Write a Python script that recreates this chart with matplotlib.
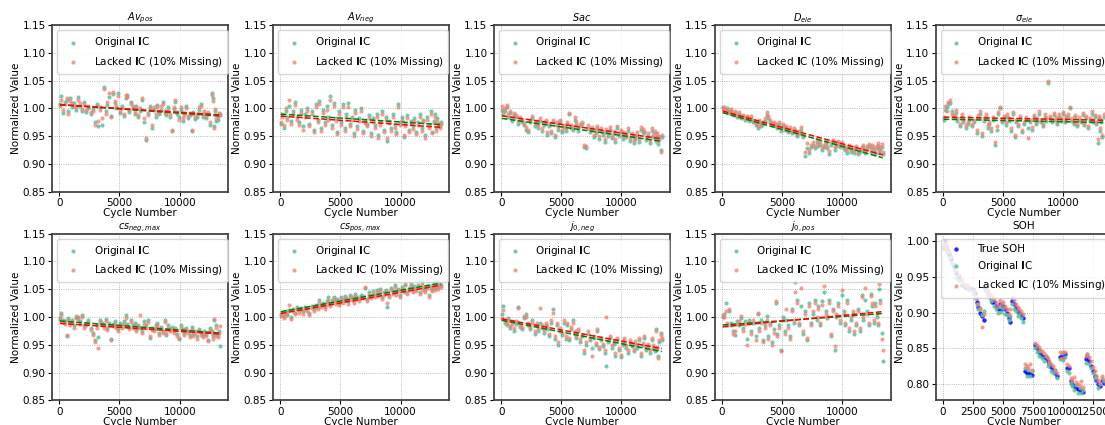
import numpy as np
import matplotlib
matplotlib.use("Agg")
import matplotlib.pyplot as plt

# cycle numbers shared by the 9 parameter panels
cycles = [50, 150, 300, 450, 600, 750, 900, 1050, 1200, 1400,
          1550, 1700, 1900, 2050, 2200, 2400, 2600, 2800, 2950, 3100,
          3250, 3400, 3550, 3700, 3850, 4000, 4150, 4300, 4450, 4600,
          4750, 4900, 5050, 5200, 5350, 5500, 5650, 5800, 5950, 6100,
          6250, 6400, 6550, 6700, 6900, 7050, 7200, 7400, 7550, 7700,
          7850, 8000, 8150, 8300, 8450, 8600, 8750, 8900, 9050, 9200,
          9350, 9500, 9650, 9800, 9950, 10100, 10250, 10400, 10550, 10700,
          10850, 11000, 11150, 11300, 11450, 11600, 11750, 11900, 12050, 12200,
          12350, 12500, 12650, 12750, 12850, 12950, 13050, 13150, 13250, 13350]

titles = [r"$Av_{pos}$", r"$Av_{neg}$", r"$Sac$", r"$D_{ele}$", r"$\sigma_{ele}$",
          r"$cs_{neg,max}$", r"$cs_{pos,max}$", r"$j_{0,neg}$", r"$j_{0,pos}$"]

av_pos_orig = [1.008, 1.022, 0.992, 1.012, 1.015, 0.995, 1.018, 1.003, 1.010, 0.998,
               1.020, 1.005, 0.996, 1.012, 0.994, 1.001, 0.990, 0.999, 0.976, 1.008,
               0.969, 1.003, 0.970, 1.038, 0.995, 1.006, 1.020, 0.986, 1.026, 1.010,
               1.000, 1.028, 0.992, 1.004, 0.986, 1.018, 1.024, 0.994, 1.012, 1.000,
               0.990, 1.004, 0.985, 0.996, 1.016, 0.975, 0.943, 0.992, 1.004, 0.964,
               0.998, 0.985, 1.006, 0.990, 0.998, 1.011, 0.996, 0.988, 1.002, 0.985,
               0.960, 0.999, 1.012, 0.990, 0.984, 0.998, 0.978, 0.992, 1.005, 0.982,
               0.988, 0.960, 0.994, 0.981, 0.985, 0.998, 1.008, 0.985, 0.992, 0.982,
               0.990, 0.970, 1.027, 1.018, 0.968, 0.995, 0.978, 0.980, 0.992, 0.988]
av_pos_lack = [1.005, 1.016, 0.998, 1.008, 1.019, 0.990, 1.013, 1.009, 1.004, 1.002,
               1.015, 1.010, 0.999, 1.008, 0.998, 1.005, 0.994, 0.995, 0.970, 1.004,
               0.978, 0.998, 0.982, 1.035, 0.990, 1.012, 1.027, 0.984, 1.029, 1.014,
               1.004, 1.022, 0.996, 1.000, 0.990, 1.025, 1.021, 0.998, 1.008, 1.004,
               0.994, 1.000, 0.989, 1.001, 1.018, 0.982, 0.947, 0.988, 1.000, 0.970,
               1.002, 0.990, 1.003, 0.994, 1.004, 1.008, 0.992, 0.992, 0.998, 0.990,
               0.962, 1.003, 1.015, 0.994, 0.980, 1.002, 0.982, 0.988, 1.001, 0.986,
               0.992, 0.962, 0.990, 0.985, 0.990, 1.002, 1.004, 0.990, 0.996, 0.986,
               0.994, 0.975, 1.025, 1.013, 0.965, 0.999, 0.982, 0.984, 0.988, 0.990]

av_neg_orig = [0.972, 0.990, 0.965, 0.996, 0.985, 1.005, 0.978, 0.995, 1.012, 0.985,
               0.975, 0.998, 0.968, 0.990, 1.000, 0.972, 0.995, 0.962, 1.008, 0.980,
               1.014, 0.965, 0.998, 0.975, 1.004, 0.985, 1.022, 0.970, 1.010, 0.982,
               0.958, 0.995, 0.975, 1.008, 0.965, 0.990, 1.009, 0.972, 0.985, 0.955,
               0.998, 0.968, 0.982, 1.000, 0.960, 0.978, 0.972, 0.988, 0.955, 0.982,
               0.970, 0.990, 0.952, 0.975, 0.995, 0.962, 0.985, 0.942, 0.978, 0.965,
               0.990, 0.970, 0.958, 1.008, 0.975, 0.985, 0.948, 0.972, 0.988, 0.962,
               0.978, 0.968, 0.982, 0.958, 0.975, 0.990, 0.965, 0.980, 0.952, 0.985,
               0.970, 0.995, 0.958, 0.978, 0.990, 0.965, 0.982, 0.972, 0.968, 0.975]
av_neg_lack = [0.975, 0.984, 0.970, 1.000, 0.980, 1.015, 0.972, 0.990, 1.006, 0.980,
               0.970, 0.992, 0.962, 0.985, 0.995, 0.968, 0.990, 0.958, 1.002, 0.975,
               1.008, 0.960, 0.992, 0.970, 0.998, 0.980, 1.016, 0.965, 1.004, 0.978,
               0.954, 0.990, 0.970, 1.002, 0.960, 0.985, 1.003, 0.968, 0.980, 0.950,
               0.992, 0.963, 0.978, 0.995, 0.955, 0.973, 0.968, 0.983, 0.950, 0.978,
               0.965, 0.985, 0.947, 0.970, 0.990, 0.958, 0.980, 0.946, 0.973, 0.960,
               0.985, 0.965, 0.954, 1.003, 0.970, 0.980, 0.952, 0.968, 0.983, 0.958,
               0.973, 0.963, 0.978, 0.954, 0.970, 0.985, 0.960, 0.975, 0.947, 0.980,
               0.965, 0.990, 0.955, 0.973, 0.985, 0.960, 0.978, 0.968, 0.964, 0.972]

sac_orig = [0.998, 0.990, 0.995, 1.002, 0.985, 0.992, 0.978, 0.988, 0.984, 0.972,
            0.980, 0.975, 0.970, 0.962, 0.958, 0.975, 0.982, 0.968, 0.972, 0.965,
            0.978, 0.960, 0.970, 0.975, 0.952, 0.968, 0.955, 0.976, 0.948, 0.970,
            0.962, 0.975, 0.958, 0.966, 0.960, 0.972, 0.990, 0.965, 0.962, 0.980,
            0.970, 0.960, 0.968, 0.972, 0.930, 0.928, 0.965, 0.958, 0.962, 0.948,
            0.955, 0.965, 0.945, 0.960, 0.952, 0.940, 0.958, 0.950, 0.962, 0.946,
            0.955, 0.940, 0.965, 0.950, 0.958, 0.945, 0.952, 0.948, 0.960, 0.942,
            0.950, 0.938, 0.945, 0.952, 0.940, 0.962, 0.958, 0.955, 0.944, 0.950,
            0.938, 0.960, 0.948, 0.955, 0.942, 0.950, 0.936, 0.945, 0.925, 0.948]
sac_lack = [1.004, 0.995, 1.000, 1.007, 0.990, 0.996, 0.983, 0.992, 0.988, 0.977,
            0.985, 0.980, 0.974, 0.966, 0.962, 0.980, 0.986, 0.973, 0.977, 0.970,
            0.983, 0.964, 0.975, 0.979, 0.957, 0.972, 0.960, 0.980, 0.953, 0.975,
            0.966, 0.980, 0.962, 0.970, 0.965, 0.976, 0.991, 0.970, 0.966, 0.984,
            0.975, 0.965, 0.972, 0.976, 0.934, 0.932, 0.970, 0.963, 0.966, 0.952,
            0.960, 0.969, 0.950, 0.964, 0.957, 0.945, 0.963, 0.955, 0.966, 0.951,
            0.960, 0.945, 0.969, 0.955, 0.962, 0.950, 0.957, 0.953, 0.964, 0.947,
            0.955, 0.943, 0.950, 0.957, 0.945, 0.966, 0.963, 0.960, 0.949, 0.955,
            0.943, 0.964, 0.953, 0.960, 0.947, 0.955, 0.941, 0.950, 0.922, 0.952]

d_ele_orig = [1.002, 0.998, 0.995, 1.000, 0.992, 0.996, 0.988, 0.992, 0.985, 0.990,
              0.982, 0.986, 0.980, 0.984, 0.978, 0.983, 0.975, 0.970, 0.965, 0.975,
              0.968, 0.972, 0.978, 0.988, 0.982, 0.975, 0.970, 0.972, 0.968, 0.965,
              0.972, 0.960, 0.968, 0.962, 0.965, 0.958, 0.962, 0.955, 0.960, 0.958,
              0.950, 0.955, 0.962, 0.948, 0.915, 0.928, 0.920, 0.930, 0.935, 0.928,
              0.940, 0.932, 0.936, 0.925, 0.930, 0.938, 0.928, 0.918, 0.935, 0.940,
              0.925, 0.932, 0.938, 0.930, 0.935, 0.928, 0.925, 0.920, 0.930, 0.922,
              0.925, 0.920, 0.928, 0.918, 0.922, 0.925, 0.930, 0.920, 0.928, 0.932,
              0.922, 0.930, 0.925, 0.918, 0.928, 0.932, 0.920, 0.925, 0.930, 0.918]
d_ele_lack = [1.000, 1.002, 0.998, 0.996, 0.995, 0.999, 0.992, 0.995, 0.988, 0.993,
              0.985, 0.989, 0.983, 0.987, 0.981, 0.986, 0.978, 0.974, 0.969, 0.979,
              0.972, 0.976, 0.982, 0.993, 0.986, 0.979, 0.974, 0.976, 0.972, 0.969,
              0.976, 0.964, 0.972, 0.966, 0.969, 0.962, 0.966, 0.959, 0.964, 0.962,
              0.954, 0.959, 0.966, 0.952, 0.922, 0.938, 0.925, 0.934, 0.940, 0.932,
              0.945, 0.936, 0.941, 0.930, 0.934, 0.942, 0.932, 0.923, 0.939, 0.944,
              0.930, 0.936, 0.942, 0.934, 0.939, 0.932, 0.930, 0.925, 0.934, 0.927,
              0.930, 0.925, 0.933, 0.922, 0.926, 0.930, 0.934, 0.925, 0.932, 0.936,
              0.927, 0.934, 0.930, 0.922, 0.933, 0.937, 0.925, 0.930, 0.936, 0.922]

sigma_orig = [0.980, 0.998, 1.002, 1.008, 1.010, 0.995, 0.985, 0.992, 0.978, 0.968,
              0.985, 0.975, 0.965, 0.972, 0.980, 0.968, 0.975, 0.955, 0.982, 0.990,
              0.950, 0.978, 0.985, 0.965, 0.972, 0.960, 0.980, 0.935, 0.962, 0.990,
              1.000, 0.975, 0.982, 0.970, 0.985, 0.978, 0.960, 0.990, 0.948, 0.975,
              0.968, 0.982, 0.958, 0.972, 0.980, 0.965, 0.975, 0.962, 0.985, 0.972,
              0.978, 0.990, 0.975, 0.968, 0.985, 0.978, 1.045, 0.982, 0.975, 0.988,
              0.980, 0.972, 0.985, 0.978, 0.990, 0.975, 0.982, 0.985, 1.000, 0.978,
              0.972, 0.985, 0.968, 0.980, 0.975, 0.988, 0.970, 0.982, 0.965, 0.978,
              0.990, 0.975, 0.985, 0.972, 0.938, 0.982, 0.960, 0.975, 0.948, 0.985]
sigma_lack = [0.985, 1.005, 0.996, 1.012, 1.015, 0.990, 0.988, 0.998, 0.982, 0.972,
              0.990, 0.980, 0.970, 0.976, 0.985, 0.972, 0.980, 0.962, 0.988, 0.995,
              0.956, 0.982, 0.990, 0.970, 0.976, 0.965, 0.984, 0.940, 0.968, 0.994,
              1.002, 0.980, 0.986, 0.975, 0.990, 0.982, 0.965, 0.994, 0.952, 0.980,
              0.972, 0.987, 0.962, 0.976, 0.984, 0.946, 0.979, 0.966, 0.989, 0.976,
              0.982, 0.995, 0.980, 0.972, 0.990, 0.982, 1.050, 0.986, 0.979, 0.992,
              0.984, 0.976, 0.990, 0.982, 0.994, 0.979, 0.986, 0.990, 1.002, 0.982,
              0.976, 0.989, 0.972, 0.984, 0.979, 0.992, 0.974, 0.986, 0.969, 0.982,
              0.995, 0.979, 0.989, 0.976, 0.945, 0.986, 0.964, 0.979, 0.952, 0.990]

cs_neg_orig = [0.998, 1.008, 0.995, 0.992, 0.965, 0.998, 0.990, 0.995, 0.985, 0.998,
               1.000, 0.992, 1.004, 0.985, 0.990, 0.994, 0.980, 0.972, 0.958, 0.985,
               0.964, 0.995, 0.990, 0.985, 0.996, 0.980, 0.990, 0.961, 0.988, 0.992,
               0.984, 0.978, 0.990, 0.985, 0.992, 1.003, 0.988, 0.982, 0.995, 0.985,
               0.990, 0.978, 0.986, 0.980, 0.975, 0.992, 0.985, 0.995, 0.962, 0.980,
               0.978, 0.985, 0.990, 0.972, 0.982, 0.975, 0.995, 0.968, 0.985, 0.978,
               0.982, 0.975, 0.980, 0.970, 0.960, 0.985, 0.978, 0.972, 0.980, 0.975,
               0.968, 0.982, 0.970, 0.975, 0.965, 0.978, 0.972, 0.968, 0.975, 0.970,
               0.958, 0.980, 0.975, 0.965, 0.995, 0.970, 0.985, 0.968, 0.975, 0.948]
cs_neg_lack = [0.994, 1.004, 0.991, 0.988, 0.968, 0.994, 0.986, 0.991, 0.981, 1.002,
               0.996, 0.988, 1.000, 0.981, 0.986, 0.990, 0.976, 0.968, 0.955, 0.981,
               0.945, 0.991, 0.986, 0.981, 0.992, 0.976, 0.986, 0.958, 0.984, 0.988,
               0.980, 0.974, 0.986, 0.981, 0.988, 0.999, 0.984, 0.978, 0.991, 0.981,
               0.986, 0.974, 0.982, 1.004, 0.971, 0.988, 0.981, 0.991, 0.965, 0.976,
               0.974, 0.981, 0.986, 0.968, 0.978, 0.971, 0.991, 0.972, 0.981, 0.974,
               0.978, 0.971, 0.976, 0.966, 0.963, 0.981, 0.974, 0.968, 0.976, 0.971,
               0.964, 0.978, 0.966, 0.971, 0.961, 0.974, 0.968, 0.964, 0.971, 0.966,
               0.957, 0.976, 0.971, 0.961, 0.997, 0.966, 0.981, 0.964, 0.971, 0.983]

cs_pos_orig = [1.005, 1.008, 1.002, 1.010, 1.006, 1.012, 1.000, 1.015, 1.008, 1.018,
               1.012, 1.016, 1.010, 1.018, 1.014, 1.008, 1.020, 1.015, 1.022, 1.018,
               1.030, 1.022, 1.026, 1.018, 1.028, 1.035, 1.024, 1.030, 1.036, 1.028,
               1.032, 1.026, 1.036, 1.030, 1.038, 1.034, 1.028, 1.040, 1.035, 1.030,
               1.042, 1.036, 1.033, 1.040, 1.038, 1.052, 1.032, 1.044, 1.038, 1.046,
               1.040, 1.048, 1.042, 1.050, 1.036, 1.044, 1.048, 1.018, 1.040, 1.052,
               1.046, 1.058, 1.044, 1.050, 1.040, 1.054, 1.048, 1.058, 1.045, 1.052,
               1.060, 1.048, 1.055, 1.050, 1.058, 1.045, 1.062, 1.052, 1.048, 1.056,
               1.040, 1.055, 1.050, 1.062, 1.052, 1.058, 1.065, 1.054, 1.060, 1.058]
cs_pos_lack = [1.002, 1.004, 0.998, 1.006, 1.003, 1.022, 0.996, 1.011, 1.005, 1.014,
               1.008, 1.013, 1.006, 1.014, 1.010, 1.004, 1.016, 1.011, 1.018, 1.014,
               1.026, 1.018, 1.022, 1.014, 1.024, 1.031, 1.020, 1.026, 1.032, 1.024,
               1.028, 1.022, 1.032, 1.026, 1.034, 1.030, 1.024, 1.036, 1.031, 1.026,
               1.038, 1.032, 1.029, 1.036, 1.034, 1.053, 1.028, 1.040, 1.034, 1.042,
               1.036, 1.044, 1.038, 1.046, 1.032, 1.040, 1.044, 1.025, 1.036, 1.048,
               1.042, 1.054, 1.040, 1.046, 1.036, 1.050, 1.044, 1.060, 1.041, 1.048,
               1.056, 1.044, 1.051, 1.046, 1.054, 1.041, 1.058, 1.048, 1.044, 1.052,
               1.036, 1.051, 1.046, 1.058, 1.048, 1.054, 1.061, 1.050, 1.056, 1.054]

j0_neg_orig = [1.005, 1.020, 0.990, 0.985, 0.998, 0.980, 0.992, 0.975, 0.988, 1.018,
               0.982, 0.978, 0.998, 1.005, 0.985, 0.978, 0.995, 0.970, 0.985, 0.975,
               0.990, 0.980, 0.972, 0.985, 0.978, 0.965, 0.990, 1.015, 0.960, 0.985,
               0.950, 0.975, 0.968, 0.990, 0.960, 0.985, 0.958, 0.978, 0.995, 0.970,
               0.962, 0.975, 0.955, 0.965, 0.935, 0.950, 0.970, 0.958, 0.945, 0.962,
               0.950, 0.975, 0.942, 0.958, 0.948, 0.935, 0.912, 0.955, 0.962, 0.945,
               0.952, 0.930, 0.958, 0.940, 0.928, 0.950, 0.958, 0.945, 0.935, 0.955,
               0.948, 0.938, 0.952, 0.945, 0.958, 0.930, 0.950, 0.962, 0.940, 0.948,
               0.935, 0.958, 0.945, 0.938, 0.978, 0.942, 0.930, 0.955, 0.972, 0.958]
j0_neg_lack = [0.998, 1.012, 0.994, 0.990, 0.995, 0.984, 0.988, 0.980, 0.992, 1.016,
               0.986, 0.982, 1.002, 1.000, 0.990, 0.982, 0.990, 0.975, 0.990, 0.980,
               1.016, 0.985, 0.976, 0.990, 0.983, 0.970, 0.994, 1.008, 0.965, 0.990,
               0.955, 0.980, 0.972, 0.994, 0.965, 0.990, 0.962, 0.982, 0.990, 0.974,
               0.966, 0.978, 0.960, 0.968, 0.940, 0.955, 0.974, 0.962, 0.929, 0.966,
               0.954, 0.978, 0.946, 0.962, 0.952, 0.940, 1.000, 0.959, 0.966, 0.949,
               0.956, 0.935, 0.962, 0.944, 0.932, 0.954, 0.962, 0.949, 0.940, 0.959,
               0.952, 0.942, 0.956, 0.949, 0.962, 0.935, 0.954, 0.966, 0.944, 0.952,
               0.940, 0.962, 0.949, 0.942, 0.975, 0.946, 0.926, 0.959, 0.968, 0.962]

j0_pos_orig = [1.000, 1.005, 1.025, 0.985, 1.010, 0.990, 0.975, 0.968, 0.992, 0.985,
               0.998, 0.980, 0.992, 0.960, 0.995, 0.975, 0.990, 0.965, 1.005, 0.980,
               0.995, 0.958, 0.985, 1.002, 0.965, 0.990, 0.955, 0.978, 1.025, 0.970,
               0.985, 0.940, 1.000, 0.975, 0.995, 0.985, 0.965, 1.015, 0.990, 1.062,
               1.030, 0.985, 1.020, 0.970, 1.010, 0.958, 1.025, 0.990, 1.005, 1.030,
               0.995, 1.020, 0.985, 1.028, 1.045, 1.010, 0.998, 1.030, 0.965, 1.015,
               0.940, 1.000, 1.025, 0.990, 1.040, 1.010, 0.985, 1.030, 0.975, 0.995,
               1.005, 0.970, 0.985, 1.015, 0.975, 1.040, 0.995, 1.030, 1.010, 0.985,
               1.042, 1.020, 0.990, 1.025, 1.000, 0.985, 1.050, 1.030, 0.972, 0.920]
j0_pos_lack = [1.004, 1.000, 1.010, 0.990, 1.015, 0.985, 0.970, 0.975, 0.988, 0.992,
               1.002, 0.975, 0.988, 0.950, 0.990, 0.970, 0.995, 0.958, 1.008, 0.975,
               0.990, 0.955, 0.980, 0.995, 0.960, 0.985, 0.950, 0.972, 1.028, 0.965,
               0.980, 0.938, 0.995, 0.970, 1.015, 0.980, 0.960, 1.010, 0.995, 1.045,
               1.025, 0.990, 1.052, 0.975, 1.005, 0.962, 1.020, 0.985, 1.010, 1.025,
               1.000, 1.015, 0.990, 1.022, 1.055, 1.005, 1.002, 1.025, 0.970, 1.010,
               0.948, 1.005, 1.020, 0.995, 1.048, 1.005, 0.990, 1.025, 0.980, 1.000,
               1.010, 0.975, 0.990, 1.010, 0.980, 1.035, 1.000, 1.052, 1.005, 0.990,
               1.038, 1.025, 0.995, 1.020, 1.005, 0.990, 1.060, 1.025, 0.960, 0.940]

# SOH panel
soh_cycles = [50, 150, 250, 350, 500, 700, 900, 1100, 1300, 1600,
              1800, 2000, 2200, 2500, 2700, 2800, 2950, 3100, 3250, 3400,
              3500, 3650, 3800, 3950, 4100, 4250, 4400, 4550, 4700, 4850,
              5000, 5150, 5300, 5450, 5600, 5750, 5900, 6050, 6200, 6350,
              6500, 6650, 6800, 6950, 7100, 7250, 7400, 7650, 7800, 7950,
              8100, 8250, 8400, 8550, 8700, 8850, 9000, 9150, 9300, 9450,
              9700, 9850, 10000, 10150, 10300, 10450, 10600, 10750, 10900, 11050,
              11200, 11350, 11500, 11650, 11850, 12000, 12150, 12300, 12450, 12600,
              12750, 12900, 13050, 13200, 13350]
true_soh = [0.990, 1.000, 0.993, 0.988, 0.982, 0.975, 0.965, 0.955, 0.950, 0.938,
            0.936, 0.936, 0.935, 0.933, 0.928, 0.915, 0.908, 0.900, 0.895, 0.890,
            0.935, 0.930, 0.925, 0.920, 0.915, 0.915, 0.910, 0.905, 0.912, 0.905,
            0.910, 0.905, 0.900, 0.893, 0.887, 0.917, 0.912, 0.907, 0.903, 0.900,
            0.897, 0.893, 0.818, 0.816, 0.815, 0.814, 0.813, 0.855, 0.850, 0.846,
            0.843, 0.840, 0.838, 0.836, 0.832, 0.828, 0.824, 0.820, 0.815, 0.812,
            0.838, 0.840, 0.838, 0.842, 0.823, 0.822, 0.805, 0.800, 0.797, 0.795,
            0.793, 0.792, 0.790, 0.789, 0.835, 0.838, 0.832, 0.826, 0.818, 0.812,
            0.806, 0.800, 0.797, 0.804, 0.801]
soh_orig = [0.993, 0.996, 0.989, 0.985, 0.978, 0.970, 0.960, 0.948, 0.945, 0.940,
            0.937, 0.934, 0.932, 0.926, 0.930, 0.912, 0.905, 0.906, 0.897, 0.902,
            0.932, 0.926, 0.922, 0.916, 0.918, 0.910, 0.905, 0.900, 0.908, 0.901,
            0.906, 0.898, 0.897, 0.890, 0.895, 0.912, 0.905, 0.903, 0.895, 0.898,
            0.892, 0.887, 0.822, 0.812, 0.820, 0.811, 0.818, 0.850, 0.845, 0.840,
            0.846, 0.836, 0.832, 0.840, 0.826, 0.830, 0.818, 0.815, 0.820, 0.808,
            0.835, 0.843, 0.834, 0.838, 0.818, 0.815, 0.802, 0.798, 0.792, 0.799,
            0.788, 0.795, 0.788, 0.792, 0.830, 0.842, 0.828, 0.822, 0.815, 0.808,
            0.811, 0.795, 0.800, 0.808, 0.805]
soh_lack = [0.995, 0.990, 0.998, 0.992, 0.985, 0.978, 0.968, 0.958, 0.952, 0.945,
            0.940, 0.938, 0.936, 0.932, 0.920, 0.920, 0.912, 0.905, 0.880, 0.898,
            0.938, 0.932, 0.928, 0.924, 0.920, 0.920, 0.915, 0.910, 0.918, 0.912,
            0.915, 0.910, 0.905, 0.898, 0.905, 0.922, 0.918, 0.912, 0.908, 0.905,
            0.902, 0.898, 0.828, 0.825, 0.822, 0.828, 0.820, 0.858, 0.855, 0.852,
            0.848, 0.846, 0.843, 0.840, 0.836, 0.832, 0.828, 0.825, 0.820, 0.816,
            0.845, 0.836, 0.845, 0.845, 0.828, 0.826, 0.808, 0.806, 0.810, 0.803,
            0.800, 0.798, 0.805, 0.796, 0.840, 0.842, 0.838, 0.832, 0.824, 0.818,
            0.812, 0.806, 0.802, 0.812, 0.806]

orig_series = [av_pos_orig, av_neg_orig, sac_orig, d_ele_orig, sigma_orig,
               cs_neg_orig, cs_pos_orig, j0_neg_orig, j0_pos_orig]
lack_series = [av_pos_lack, av_neg_lack, sac_lack, d_ele_lack, sigma_lack,
               cs_neg_lack, cs_pos_lack, j0_neg_lack, j0_pos_lack]

c_orig = "#5fbf9f"
c_lack = "#f08070"
fs = 7.5

fig, axes = plt.subplots(2, 5, figsize=(11.05, 4.25), dpi=100)
fig.subplots_adjust(left=0.047, right=1.006, bottom=0.058, top=0.941,
                    wspace=0.255, hspace=0.25)


def style(ax):
    ax.grid(True, linestyle=":", color="gray", linewidth=0.6, alpha=0.7)
    for sp in ax.spines.values():
        sp.set_linewidth(1.3)
        sp.set_color("#444444")
    ax.tick_params(labelsize=fs, length=3, width=0.8, pad=1.5)
    ax.set_xlabel("Cycle Number", fontsize=fs, labelpad=0)
    ax.set_ylabel("Normalized Value", fontsize=fs, labelpad=1)


x = np.array(cycles)
for i in range(9):
    ax = axes.flat[i]
    yo = np.array(orig_series[i])
    yl = np.array(lack_series[i])
    ax.scatter(x, yo, s=9, color=c_orig, alpha=0.85, linewidths=0,
               label="Original $\\mathbf{I}$C")
    ax.scatter(x, yl, s=9, color=c_lack, alpha=0.75, linewidths=0,
               label="Lacked $\\mathbf{I}$C (10% Missing)")
    po = np.polyfit(x, yo, 1)
    pl = np.polyfit(x, yl, 1)
    xx = np.array([x.min(), x.max()])
    ax.plot(xx, np.polyval(po, xx), "--", color="green", linewidth=1.1)
    ax.plot(xx, np.polyval(pl, xx), "--", color="red", linewidth=1.1)
    ax.set_ylim(0.85, 1.15)
    ax.set_yticks([0.85, 0.90, 0.95, 1.00, 1.05, 1.10, 1.15])
    ax.set_xticks([0, 5000, 10000])
    ax.set_title(titles[i], fontsize=fs - 0.5, pad=3)
    style(ax)
    ax.legend(loc="upper left", fontsize=fs, handletextpad=1.0,
              borderpad=0.5, labelspacing=0.5)

ax = axes.flat[9]
ax.scatter(soh_cycles, true_soh, s=10, color="blue", alpha=0.85, linewidths=0,
           label="True SOH")
ax.scatter(soh_cycles, soh_orig, s=9, color=c_orig, alpha=0.85, linewidths=0,
           label="Original $\\mathbf{I}$C")
ax.scatter(soh_cycles, soh_lack, s=9, color=c_lack, alpha=0.75, linewidths=0,
           label="Lacked $\\mathbf{I}$C (10% Missing)")
ax.set_xticks([0, 2500, 5000, 7500, 10000, 12500])
ax.set_yticks([0.80, 0.85, 0.90, 0.95, 1.00])
ax.set_title("SOH", fontsize=fs, pad=3)
style(ax)
ax.legend(loc="upper left", fontsize=fs, handletextpad=1.0,
          borderpad=0.5, labelspacing=0.5)

fig.savefig("out.png", dpi=100)
